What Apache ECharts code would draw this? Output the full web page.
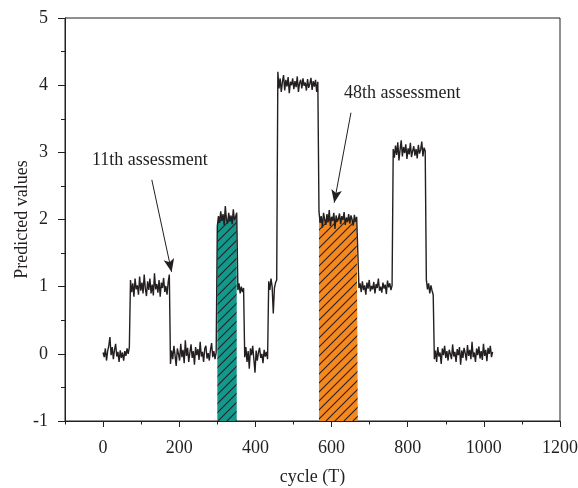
<!DOCTYPE html>
<html>
<head>
<meta charset="utf-8">
<script src="https://cdn.jsdelivr.net/npm/echarts@6/dist/echarts.min.js"></script>
<style>
html,body{margin:0;padding:0;background:#fff;}
#main{width:578px;height:488px;}
</style>
</head>
<body>
<div id="main"></div>
<script>
// one sample every 3 cycles, each run starts at its own cycle
const cycleStep = 3;
const runStarts = [0, 72, 177, 300, 354, 372, 435, 459, 567, 672, 762, 849, 870];

const run0 = [0.02,-0.05,0.08,-0.10,0.04,0.12,0.25,-0.02,0.10,-0.08,0.06,0.15,-0.04,0.03,-0.12,0.05,-0.06,0.02,-0.10,0.04,-0.03,0.08,0.00,0.10];
const run1 = [1.10,0.92,1.05,0.85,1.12,0.96,1.02,0.88,1.15,0.94,1.06,0.90,1.18,0.97,0.86,1.08,0.95,1.12,0.90,1.03,0.87,1.20,0.96,1.04,0.91,1.10,0.85,1.06,0.98,1.13,0.92,1.01,0.88,1.07,1.18];
const run2 = [-0.15,0.05,-0.08,0.12,-0.02,-0.18,0.08,0.00,-0.10,0.15,-0.05,0.06,-0.14,0.20,-0.03,0.09,-0.12,0.02,0.14,-0.06,0.04,-0.16,0.10,-0.02,0.07,-0.09,0.18,-0.04,0.03,-0.12,0.08,0.12,-0.07,0.01,-0.10,0.06,0.16,-0.05,0.04,-0.08,0.02];
const run3 = [1.90,2.05,1.95,2.12,1.98,2.08,1.92,2.20,2.00,1.94,2.10,1.97,2.06,1.93,2.15,1.99,2.04,2.10];
const run4 = [0.95,1.05,0.90,1.00,0.92,0.98];
const run5 = [-0.05,0.10,-0.12,0.04,-0.22,0.08,-0.02,0.12,-0.08,-0.28,0.05,-0.10,0.02,0.09,-0.06,0.00,-0.14,0.06,-0.04,0.03,-0.08];
const run6 = [1.08,0.95,1.12,1.00,0.60,0.98,1.06,1.10];
const run7 = [4.20,3.95,4.10,3.90,4.05,4.15,3.92,4.08,3.98,4.12,3.88,4.05,4.00,4.10,3.94,4.06,3.97,4.13,3.90,4.03,4.08,3.95,4.10,3.99,4.04,3.92,4.09,3.96,4.02,4.11,3.93,4.06,3.98,4.08,3.90,4.05];
const run8 = [2.12,1.95,2.05,1.88,2.10,2.00,1.92,2.08,1.96,2.14,1.90,2.04,1.98,2.10,1.86,2.06,1.97,2.02,2.09,1.93,2.05,1.99,2.11,1.92,2.03,1.96,2.08,1.94,2.06,2.00,1.91,2.07,1.97,2.04,2.02];
const run9 = [0.98,1.05,0.92,1.08,0.95,1.02,0.88,1.06,0.97,1.10,0.93,1.01,0.96,1.07,0.90,1.04,0.98,1.12,0.94,1.00,0.91,1.06,0.97,1.03,0.89,1.09,0.99,1.05,0.95,1.02];
const run10 = [3.05,2.92,3.10,2.96,3.15,2.88,3.04,3.18,2.94,3.08,2.99,3.12,2.90,3.06,2.97,3.14,2.93,3.02,3.09,2.95,3.05,2.91,3.11,2.98,3.04,3.16,2.94,3.07,3.02];
const run11 = [1.10,0.96,1.05,0.90,1.02,0.94,0.88];
const run12 = [-0.08,0.05,-0.12,0.10,-0.04,0.02,-0.15,0.08,-0.02,0.12,-0.06,0.04,-0.10,0.06,0.00,-0.08,0.14,-0.04,0.03,-0.12,0.07,-0.02,0.10,-0.16,0.05,-0.06,0.09,0.01,-0.10,0.13,-0.03,0.06,-0.08,0.18,-0.05,0.02,-0.12,0.08,-0.02,0.11,-0.07,0.04,-0.09,0.15,-0.03,0.06,-0.11,0.09,0.00,0.12,-0.05,0.03];

const runs = [run0, run1, run2, run3, run4, run5, run6, run7, run8, run9, run10, run11, run12];
const tealRun = 3;    // 11th assessment
const orangeRun = 8;  // 48th assessment

const xLabelTicks = [0, 200, 400, 600, 800, 1000, 1200];
const xMinorTicks = [-100, 100, 300, 500, 700, 900, 1100];

const ink = '#231f20';
const font = 'Liberation Serif';
const fs = 18;

function toPoints(idx){
    return runs[idx].map((v, i) => [runStarts[idx] + i * cycleStep, v]);
}
let allPoints = [];
runs.forEach((r, idx) => { allPoints = allPoints.concat(toPoints(idx)); });

function hatch(bg){
    let c = document.createElement('canvas');
    c.width = 9; c.height = 9;
    let g = c.getContext('2d');
    g.fillStyle = bg;
    g.fillRect(0, 0, 9, 9);
    g.strokeStyle = '#262222';
    g.lineWidth = 1.1;
    g.beginPath();
    g.moveTo(0, 9); g.lineTo(9, 0);
    g.moveTo(-1, 1); g.lineTo(1, -1);
    g.moveTo(8, 10); g.lineTo(10, 8);
    g.stroke();
    return { image: c, repeat: 'repeat' };
}

function shade(idx, bg){
    return {
        type: 'line',
        data: toPoints(idx),
        symbol: 'none',
        silent: true,
        lineStyle: { width: 0 },
        areaStyle: { origin: 'start', opacity: 1, color: hatch(bg) }
    };
}

let myChart = echarts.init(document.getElementById('main'));
let option = {
    animation: false,
    textStyle: { fontFamily: font, color: ink },
    grid: { left: 65, right: 18, top: 18, bottom: 67, outerBoundsMode: 'none', show: true, borderColor: ink, borderWidth: 1, backgroundColor: 'transparent' },
    xAxis: [
        {
            type: 'value', min: -100, max: 1200, interval: 100,
            name: 'cycle (T)', nameLocation: 'middle', nameGap: 47, nameMoveOverlap: false,
            nameTextStyle: { fontFamily: font, fontSize: fs, color: ink },
            axisLine: { onZero: false, lineStyle: { color: ink, width: 1 } },
            axisTick: { customValues: xLabelTicks, length: 6, lineStyle: { color: ink } },
            axisLabel: { customValues: xLabelTicks, fontFamily: font, fontSize: fs, color: ink, margin: 18, formatter: v => String(v) },
            splitLine: { show: false }
        },
        {
            type: 'value', min: -100, max: 1200, interval: 100, position: 'bottom',
            axisLine: { show: false, onZero: false },
            axisTick: { customValues: xMinorTicks, length: 3.5, lineStyle: { color: ink } },
            axisLabel: { show: false },
            splitLine: { show: false }
        }
    ],
    yAxis: {
        type: 'value', min: -1, max: 5, interval: 1,
        name: 'Predicted values', nameLocation: 'middle', nameGap: 34, nameMoveOverlap: false,
        nameTextStyle: { fontFamily: font, fontSize: fs, color: ink },
        axisLine: { show: true, onZero: false, lineStyle: { color: ink, width: 1 } },
        axisTick: { length: 7, lineStyle: { color: ink } },
        minorTick: { show: true, splitNumber: 2, length: 4, lineStyle: { color: ink } },
        axisLabel: { fontFamily: font, fontSize: fs, color: ink, margin: 17 },
        splitLine: { show: false }
    },
    series: [
        shade(tealRun, '#12998c'),
        shade(orangeRun, '#f5881f'),
        {
            type: 'line',
            data: allPoints,
            symbol: 'none',
            lineStyle: { color: ink, width: 1.4 },
            markLine: {
                silent: true,
                label: { show: false },
                lineStyle: { color: ink, width: 1, type: 'solid' },
                data: [
                    [{ coord: [128, 2.59], symbol: 'none' }, { coord: [180, 1.22], symbol: 'arrow', symbolSize: [8, 13] }],
                    [{ coord: [651, 3.59], symbol: 'none' }, { coord: [607, 2.25], symbol: 'arrow', symbolSize: [8, 13] }]
                ]
            },
            markPoint: {
                silent: true,
                symbol: 'rect',
                symbolSize: 1,
                itemStyle: { color: 'transparent' },
                label: { show: true, position: 'inside', formatter: '{b}', fontFamily: font, fontSize: fs, color: ink },
                data: [
                    { name: '11th assessment', coord: [123, 2.88] },
                    { name: '48th assessment', coord: [786, 3.88] }
                ]
            }
        }
    ]
};
myChart.setOption(option);
</script>
</body>
</html>
